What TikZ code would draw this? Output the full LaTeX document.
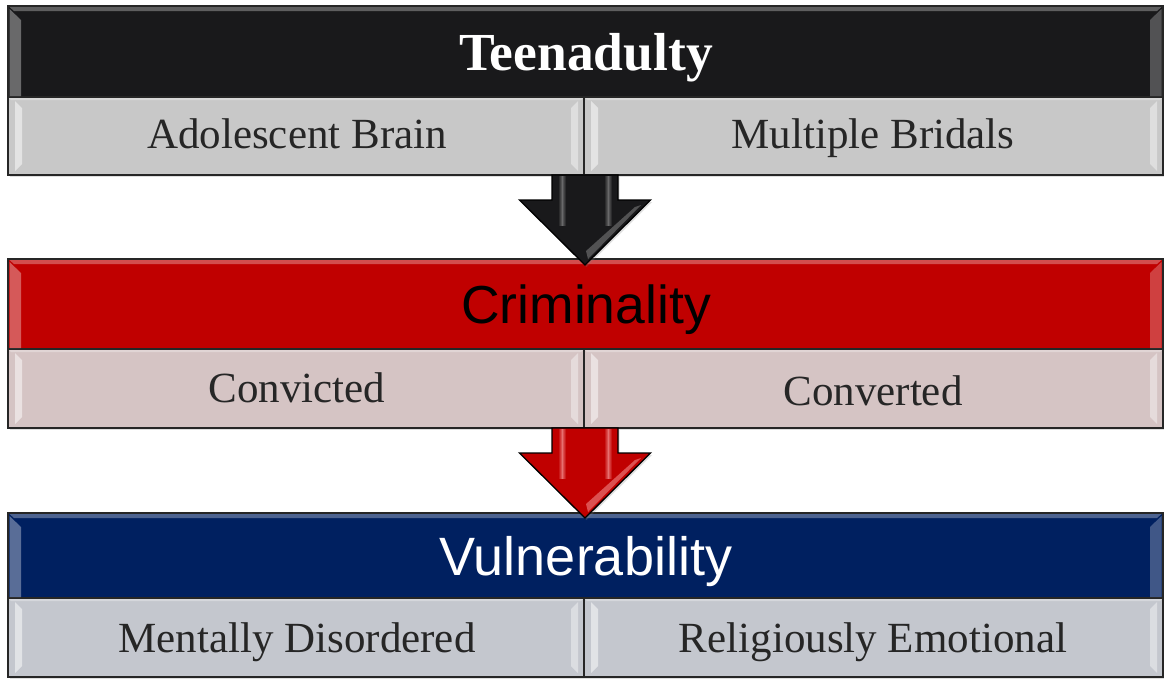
\documentclass[tikz,border=0pt]{standalone}
\usepackage{fontspec}
\setmainfont{Liberation Serif}
\newfontfamily\arialf{Liberation Sans}
\usetikzlibrary{calc,shadows}
\definecolor{hblack}{HTML}{19191B}
\definecolor{sgray}{HTML}{C8C8C8}
\definecolor{hred}{HTML}{C00000}
\definecolor{spink}{HTML}{D5C4C4}
\definecolor{hnavy}{HTML}{002060}
\definecolor{sblue}{HTML}{C4C7CE}
\definecolor{txt}{HTML}{262626}
\tikzset{
  box/.style={draw=black!85, line width=1.4pt, outer sep=0pt, inner sep=0pt, rectangle,
    drop shadow={opacity=0.25, shadow xshift=1.5pt, shadow yshift=-2pt}},
  subtxt/.style={anchor=base, font=\fontsize{43}{43}\selectfont, text=txt, inner sep=0pt},
  arrowline/.style={draw=black, line width=1.3pt, line join=miter,
    drop shadow={opacity=0.25, shadow xshift=1.5pt, shadow yshift=-2pt}},
}
% header bevel: node, light colour
\newcommand{\hbevel}[2]{%
  \fill[#2, opacity=0.35] let \p1=(#1.north west), \p2=(#1.south east) in
    (\x1+1.5pt,\y1-3pt) -- (\x1+13pt,\y1-14pt) -- (\x1+13pt,\y2+1pt) -- (\x1+1.5pt,\y2+1pt) -- cycle;
  \fill[#2, opacity=0.25] let \p1=(#1.north west), \p2=(#1.south east) in
    (\x2-1.5pt,\y1-3pt) -- (\x2-13pt,\y1-14pt) -- (\x2-13pt,\y2+1pt) -- (\x2-1.5pt,\y2+1pt) -- cycle;
  \fill[#2, opacity=0.3] let \p1=(#1.north west), \p2=(#1.south east) in
    (\x1+1.5pt,\y1-1pt) -- (\x2-1.5pt,\y1-1pt) -- (\x2-6pt,\y1-5pt) -- (\x1+6pt,\y1-5pt) -- cycle;
}
% sub-box bevel: node, light colour
\newcommand{\sbevel}[2]{%
  \fill[#2, opacity=0.5] let \p1=(#1.north west), \p2=(#1.south east) in
    (\x1+7pt,\y1-4pt) -- (\x1+14pt,\y1-11pt) -- (\x1+14pt,\y2+11pt) -- (\x1+7pt,\y2+4pt) -- cycle;
  \fill[#2, opacity=0.4] let \p1=(#1.north west), \p2=(#1.south east) in
    (\x2-6pt,\y1-4pt) -- (\x2-13pt,\y1-11pt) -- (\x2-13pt,\y2+11pt) -- (\x2-6pt,\y2+4pt) -- cycle;
  \fill[#2, opacity=0.3] let \p1=(#1.north west), \p2=(#1.south east) in
    (\x1+1pt,\y1-1pt) -- (\x2-1pt,\y1-1pt) -- (\x2-3pt,\y1-3pt) -- (\x1+3pt,\y1-3pt) -- cycle;
}
% arrow: top coordinate, tip coordinate, fill, highlight
\newcommand{\bigdownarrow}[4]{%
  \draw[arrowline, fill=#3] let \p1=(#1), \p2=(#2) in
    (\x1-33pt,\y1) -- (\x1+33pt,\y1) -- (\x1+33pt,\y2+65pt) -- (\x1+65.5pt,\y2+65pt)
    -- (\x1,\y2) -- (\x1-65.5pt,\y2+65pt) -- (\x1-33pt,\y2+65pt) -- cycle;
  \shade[left color=#3, right color=#4, opacity=0.6] let \p1=(#1), \p2=(#2) in
    (\x1-27pt,\y1-1pt) rectangle (\x1-23pt,\y2+40pt);
  \shade[left color=#4, right color=#3, opacity=0.6] let \p1=(#1), \p2=(#2) in
    (\x1-23pt,\y1-1pt) rectangle (\x1-19pt,\y2+40pt);
  \shade[left color=#3, right color=#4, opacity=0.6] let \p1=(#1), \p2=(#2) in
    (\x1+19pt,\y1-1pt) rectangle (\x1+23pt,\y2+40pt);
  \shade[left color=#4, right color=#3, opacity=0.6] let \p1=(#1), \p2=(#2) in
    (\x1+23pt,\y1-1pt) rectangle (\x1+27pt,\y2+40pt);
  \fill[#4, opacity=0.45] let \p1=(#1), \p2=(#2) in
    (\x1+50pt,\y2+58pt) -- (\x1+56pt,\y2+60pt) -- (\x1+3pt,\y2+6pt) -- (\x1+1pt,\y2+14pt) -- cycle;
}
\begin{document}
\begin{tikzpicture}[x=1pt, y=-1pt]
\useasboundingbox[fill=white] (0,0) rectangle (1164,681);

% ---------- section 1 ----------
\node[box, fill=hblack, minimum width=1155pt, minimum height=91pt] (h1) at (585.5,51.5) {};
\node[box, fill=sgray, minimum width=576pt, minimum height=78pt] (s1l) at (296,136) {};
\node[box, fill=sgray, minimum width=579pt, minimum height=78pt] (s1r) at (873.5,136) {};
\hbevel{h1}{white}
\sbevel{s1l}{white}
\sbevel{s1r}{white}
\node[anchor=base, inner sep=0pt, text=white, font=\fontsize{53.5}{53.5}\selectfont\bfseries] (h1t) at (586,70) {Teenadulty};
\node[subtxt] (s1lt) at (297,148) {Adolescent Brain};
\node[subtxt] (s1rt) at (873,148) {Multiple Bridals};

% ---------- section 2 ----------
\node[box, fill=hred, minimum width=1155pt, minimum height=90pt] (h2) at (585.5,304) {};
\node[box, fill=spink, minimum width=576pt, minimum height=79pt] (s2l) at (296,388.5) {};
\node[box, fill=spink, minimum width=579pt, minimum height=79pt] (s2r) at (873.5,388.5) {};
\hbevel{h2}{white}
\sbevel{s2l}{white}
\sbevel{s2r}{white}
\node[anchor=base, inner sep=0pt, text=black, font=\arialf\fontsize{53.5}{53.5}\selectfont] (h2t) at (586,323) {Criminality};
\node[subtxt] (s2lt) at (297,402) {Convicted};
\node[subtxt] (s2rt) at (873,405) {Converted};

% ---------- section 3 ----------
\node[box, fill=hnavy, minimum width=1155pt, minimum height=85pt] (h3) at (585.5,555.5) {};
\node[box, fill=sblue, minimum width=576pt, minimum height=79pt] (s3l) at (296,637.5) {};
\node[box, fill=sblue, minimum width=579pt, minimum height=79pt] (s3r) at (873.5,637.5) {};
\hbevel{h3}{white}
\sbevel{s3l}{white}
\sbevel{s3r}{white}
\node[anchor=base, inner sep=0pt, text=white, font=\arialf\fontsize{54}{54}\selectfont] (h3t) at (586,575) {Vulnerability};
\node[subtxt] (s3lt) at (297,652) {Mentally Disordered};
\node[subtxt] (s3rt) at (873,652) {Religiously Emotional};

% ---------- arrows ----------
\coordinate (a1top) at ([xshift=1pt]s1l.south east);
\coordinate (a1tip) at ([yshift=-6pt]h2.north);
\coordinate (a2top) at ([xshift=1pt]s2l.south east);
\coordinate (a2tip) at ([yshift=-5pt]h3.north);
\bigdownarrow{a1top}{a1tip}{hblack}{gray!80}
\bigdownarrow{a2top}{a2tip}{hred}{red!30!white}
\end{tikzpicture}
\end{document}
